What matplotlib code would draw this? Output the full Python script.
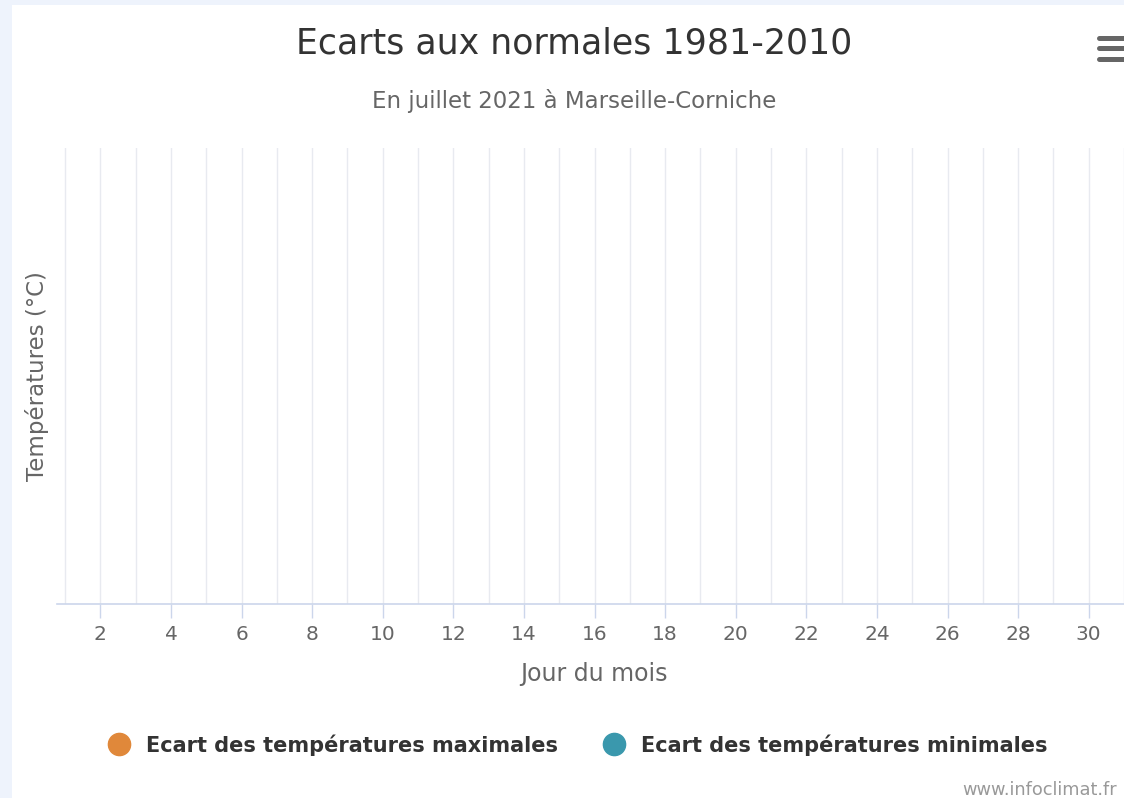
import matplotlib
matplotlib.use("Agg")
import matplotlib.pyplot as plt
from matplotlib.lines import Line2D
from matplotlib.patches import Rectangle
import numpy as np

W, H = 1124, 798

# Data: days of month, no values recorded (empty chart)
days = list(range(1, 32))
tick_days = list(range(2, 31, 2))
ecart_max = [np.nan] * 31
ecart_min = [np.nan] * 31

title = "Ecarts aux normales 1981-2010"
subtitle = "En juillet 2021 à Marseille-Corniche"
xlabel = "Jour du mois"
ylabel = "Températures (°C)"
series_names = ["Ecart des températures maximales", "Ecart des températures minimales"]
series_colors = ["#e0883a", "#3a98ad"]
credit = "www.infoclimat.fr"

plt.rcParams['font.family'] = ['DejaVu Sans']

fig = plt.figure(figsize=(W / 100, H / 100), dpi=100)
fig.patch.set_facecolor("#eef3fc")
fig.add_artist(Rectangle((12 / W, 0), 1 - 12 / W, 1 - 5 / H, transform=fig.transFigure,
                         facecolor="white", edgecolor="none", zorder=0))

def fx(px):
    return px / W

def fy(py):
    return 1 - py / H

ax = fig.add_axes([fx(57), fy(604), 1 - fx(57), fy(148) - fy(604)])
ax.set_facecolor("none")
for s, c, n in zip([ecart_max, ecart_min], series_colors, series_names):
    ax.plot(days, s, color=c, marker="o", label=n)

ax.set_xlim(0.77, 30.96)
ax.set_ylim(0, 1)
ax.set_xticks(days, minor=True)
ax.set_xticks(tick_days)
ax.set_xticklabels([str(d) for d in tick_days], fontsize=14.5, color="#666666")
ax.grid(True, axis="x", which="both", color="#e8eaf0", linewidth=1)
ax.tick_params(axis="x", which="major", length=10, color="#ccd6eb", width=1, pad=5)
ax.tick_params(axis="x", which="minor", length=0)
ax.set_yticks([])
for sp in ["top", "right", "left"]:
    ax.spines[sp].set_visible(False)
ax.spines["bottom"].set_color("#ccd6eb")
ax.spines["bottom"].set_linewidth(1.2)
ax.set_axisbelow(True)

fig.text(fx(574), fy(43), title, ha="center", va="center", fontsize=25, color="#333333")
fig.text(fx(574), fy(101), subtitle, ha="center", va="center", fontsize=16.5, color="#666666")
fig.text(fx(594), fy(674), xlabel, ha="center", va="center", fontsize=17, color="#666666")
fig.text(fx(37), fy(376), ylabel, ha="center", va="center", rotation=90, fontsize=16.5, color="#666666")
fig.text(fx(1117), fy(790), credit, ha="right", va="center", fontsize=12.8, color="#999999")

handles = [Line2D([], [], color=c, marker="o", linestyle="none", markersize=16) for c in series_colors]
fig.legend(handles, series_names, loc="center", bbox_to_anchor=(fx(578), fy(745)), ncol=2,
           frameon=False, prop={"weight": "bold", "size": 15}, labelcolor="#333333",
           handletextpad=0.8, columnspacing=2.2, handlelength=1.0)

for y in [38, 48, 59]:
    fig.add_artist(Line2D([fx(1099), fx(1126)], [fy(y), fy(y)], transform=fig.transFigure,
                          color="#666666", linewidth=3.6, solid_capstyle="round"))

fig.savefig("out.png", dpi=100)
